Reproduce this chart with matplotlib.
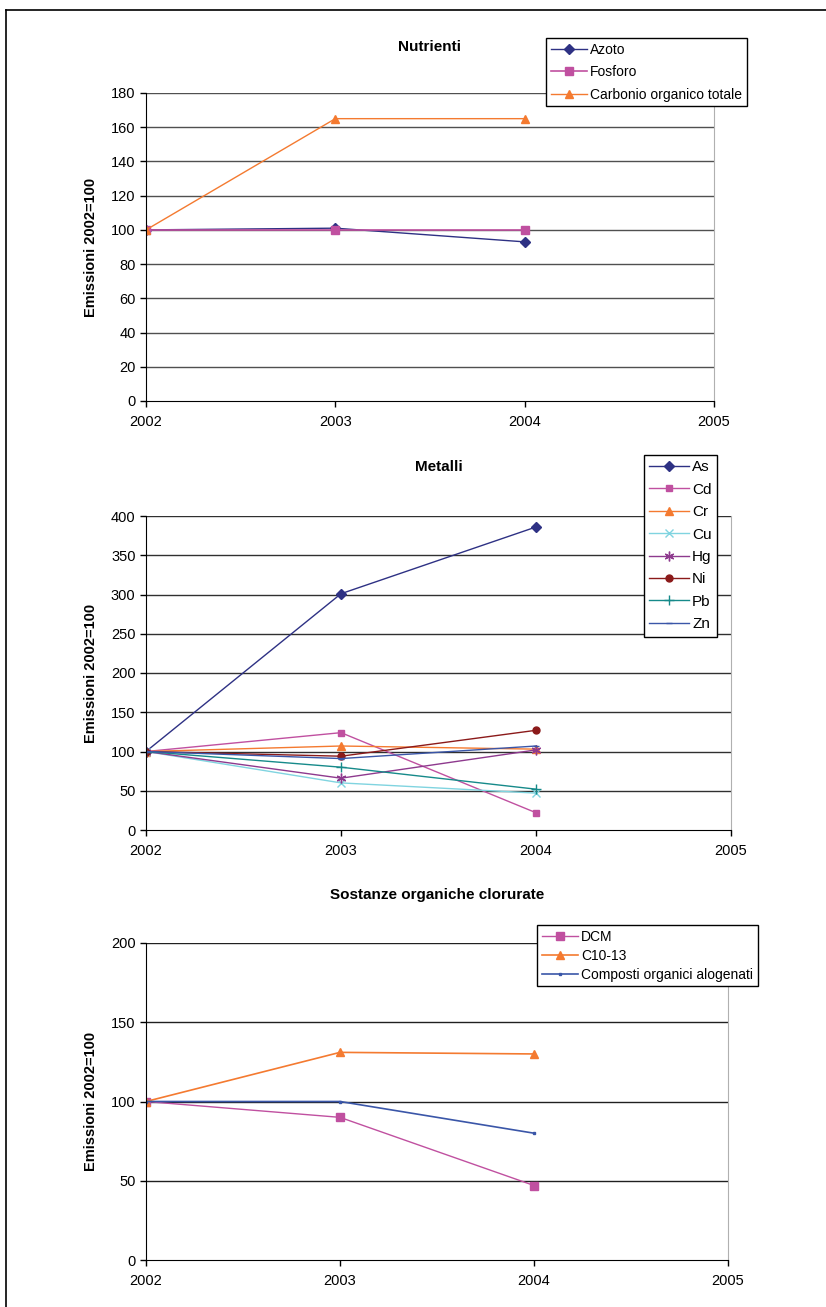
import numpy as np
import matplotlib
matplotlib.use('Agg')
import matplotlib.pyplot as plt
from matplotlib.lines import Line2D

plt.rcParams['font.family'] = ['Liberation Sans', 'DejaVu Sans']

years = [2002, 2003, 2004]

# Nutrienti
azoto = [100, 101, 93]
fosforo = [100, 100, 100]
carbonio = [100, 165, 165]

# Metalli
met_as = [100, 301, 386]
met_cd = [100, 124, 22]
met_cr = [100, 107, 103]
met_cu = [100, 60, 47]
met_hg = [100, 66, 102]
met_ni = [100, 94, 127]
met_pb = [100, 80, 52]
met_zn = [100, 91, 107]

# Sostanze organiche clorurate
dcm = [100, 90, 47]
c1013 = [100, 131, 130]
composti = [100, 100, 80]

NAVY = '#2e3184'
PINK = '#c050a0'
ORANGE = '#f47a30'
CYAN = '#80d4e0'
PURPLE = '#8e3a8e'
DRED = '#8b1a1a'
TEAL = '#168a8a'
BLUE = '#3a56a8'

W, H = 826, 1307
fig = plt.figure(figsize=(W / 100, H / 100), dpi=100)

# outer frame
fig.add_artist(Line2D([6 / W, 6 / W], [0, 1 - 10 / H], color='black', lw=1.2))
fig.add_artist(Line2D([6 / W, 1], [1 - 10 / H, 1 - 10 / H], color='black', lw=1.2))


def make_ax(left, right, top, bottom):
    return fig.add_axes([left / W, 1 - bottom / H, (right - left) / W, (bottom - top) / H])


def style(ax, ymax, ystep, title, title_y, grid_color):
    ax.set_xlim(2002, 2005)
    ax.set_ylim(0, ymax)
    ax.set_xticks([2002, 2003, 2004, 2005])
    ax.set_yticks(np.arange(0, ymax + 1, ystep))
    for y in np.arange(ystep, ymax + 1, ystep):
        ax.axhline(y, color=grid_color, lw=1.0, zorder=0)
    ax.spines['top'].set_visible(False)
    ax.spines['right'].set_color('#b0b0b0')
    ax.spines['left'].set_color('black')
    ax.spines['bottom'].set_color('black')
    ax.tick_params(direction='out', length=4, labelsize=10.5, width=1)
    ax.tick_params(axis='x', pad=6)
    ax.set_ylabel('Emissioni 2002=100', fontsize=10.5, fontweight='bold', labelpad=9)
    fig.text(ax.get_position().x0 + ax.get_position().width / 2, 1 - title_y / H, title,
             ha='center', va='center', fontsize=11, fontweight='bold')


def add_legend(ax, x, y, fs, spacing):
    leg = ax.legend(loc='upper left', bbox_to_anchor=(x / W, 1 - y / H),
                    bbox_transform=fig.transFigure, fontsize=fs, frameon=True,
                    fancybox=False, edgecolor='black', framealpha=1,
                    handlelength=2.6, handletextpad=0.2, labelspacing=spacing,
                    borderpad=0.35, borderaxespad=0)
    leg.get_frame().set_linewidth(1.0)
    leg.set_zorder(10)


# Panel 1
ax1 = make_ax(146, 714, 93, 401)
ax1.plot(years, azoto, color=NAVY, marker='D', ms=5, lw=1, label='Azoto')
ax1.plot(years, fosforo, color=PINK, marker='s', ms=6, lw=1.2, label='Fosforo')
ax1.plot(years, carbonio, color=ORANGE, marker='^', ms=6, lw=1, label='Carbonio organico totale')
style(ax1, 180, 20, 'Nutrienti', 47, '#505050')
add_legend(ax1, 546, 38, 10, 0.6)

# Panel 2
ax2 = make_ax(146, 731, 516, 830)
ax2.plot(years, met_as, color=NAVY, marker='D', ms=5, lw=1, label='As')
ax2.plot(years, met_cd, color=PINK, marker='s', ms=5, lw=1, label='Cd')
ax2.plot(years, met_cr, color=ORANGE, marker='^', ms=6, lw=1, label='Cr')
ax2.plot(years, met_cu, color=CYAN, marker='x', ms=6, lw=1, label='Cu')
ax2.plot(years, met_hg, color=PURPLE, marker=(6, 2, 0), ms=7, lw=1, label='Hg')
ax2.plot(years, met_ni, color=DRED, marker='o', ms=5, lw=1, label='Ni')
ax2.plot(years, met_pb, color=TEAL, marker='+', ms=7, lw=1, label='Pb')
ax2.plot(years, met_zn, color=BLUE, marker='_', ms=5, lw=1, label='Zn')
style(ax2, 400, 50, 'Metalli', 467, '#303030')
add_legend(ax2, 644, 455, 11, 0.55)

# Panel 3
ax3 = make_ax(146, 728, 943, 1260)
ax3.plot(years, dcm, color=PINK, marker='s', ms=6, lw=1, label='DCM')
ax3.plot(years, c1013, color=ORANGE, marker='^', ms=6, lw=1.2, label='C10-13')
ax3.plot(years, composti, color=BLUE, marker='s', ms=2, lw=1.2, label='Composti organici alogenati')
style(ax3, 200, 50, 'Sostanze organiche clorurate', 895, '#202020')
add_legend(ax3, 537, 925, 10, 0.35)

fig.savefig('out.png', dpi=100)
